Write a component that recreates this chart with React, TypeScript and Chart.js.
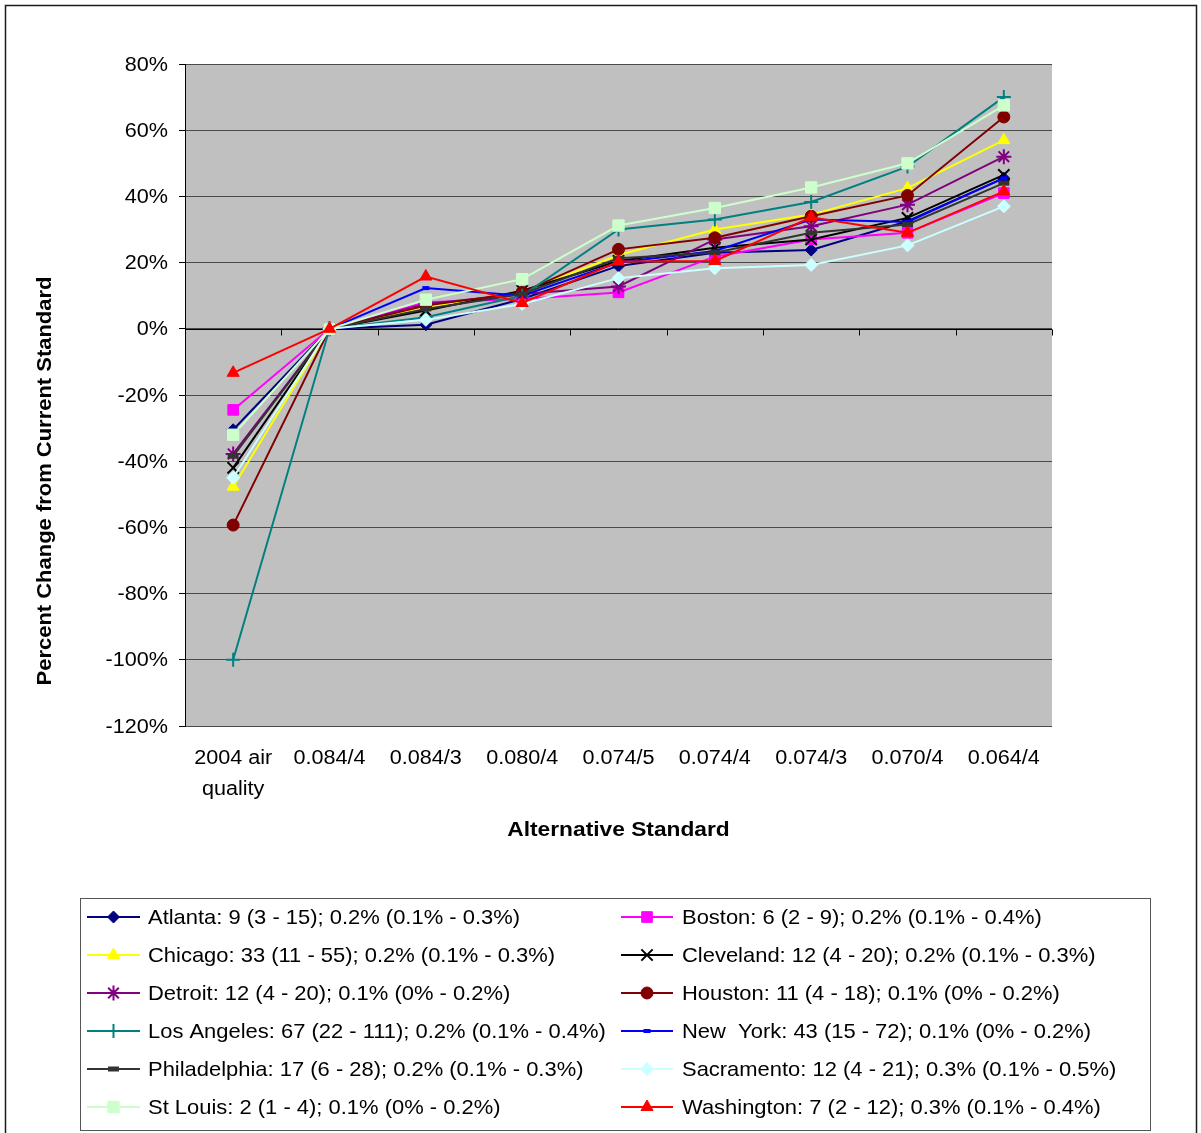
import React, { useEffect, useRef } from 'react';
import { Chart, registerables } from 'chart.js';
import { drawPoint } from 'chart.js/helpers';

Chart.register(...registerables);

const FONT = "'Liberation Sans', Arial, sans-serif";

const categories: (string | string[])[] = [
  ['2004 air', 'quality'],
  '0.084/4',
  '0.084/3',
  '0.080/4',
  '0.074/5',
  '0.074/4',
  '0.074/3',
  '0.070/4',
  '0.064/4',
];

const yMin = -120;
const yMax = 80;
const yStep = 20;

const atlanta = [-30.5, 0, 1.2, 9, 19, 23, 23.8, 32.5, 45.5];
const boston = [-24.5, 0, 8, 9, 11, 21.8, 27, 29, 41];
const chicago = [-47.7, 0, 6.5, 11, 22.3, 30, 34.5, 42.5, 57];
const cleveland = [-42, 0, 5.5, 11.5, 20.5, 24.5, 27, 33.5, 46.5];
const detroit = [-37.8, 0, 7.5, 10.5, 12.8, 27, 31, 37.5, 52];
const houston = [-59.3, 0, 7, 11, 24, 27.5, 34, 40.3, 64];
const losAngeles = [-100, 0, 3.5, 10, 30, 33, 38.3, 49, 70];
const newYork = [null, 0, 12.3, 10, 20, 23.5, 33, 32.3, 45.5];
const philadelphia = [-38.5, 0, 6, 10.5, 21.3, 23, 29, 31.5, 44];
const sacramento = [-45, 0, 2.7, 7.5, 15.3, 18.3, 19.3, 25.2, 37];
const stLouis = [-32, 0, 8.8, 15, 31.2, 36.5, 42.7, 50, 67.5];
const washington = [-13.3, 0, 15.8, 7.8, 20.3, 20.5, 33.7, 29, 41.5];

const seriesLabels = [
  'Atlanta: 9 (3 - 15); 0.2% (0.1% - 0.3%)',
  'Boston: 6 (2 - 9); 0.2% (0.1% - 0.4%)',
  'Chicago: 33 (11 - 55); 0.2% (0.1% - 0.3%)',
  'Cleveland: 12 (4 - 20); 0.2% (0.1% - 0.3%)',
  'Detroit: 12 (4 - 20); 0.1% (0% - 0.2%)',
  'Houston: 11 (4 - 18); 0.1% (0% - 0.2%)',
  'Los Angeles: 67 (22 - 111); 0.2% (0.1% - 0.4%)',
  'New  York: 43 (15 - 72); 0.1% (0% - 0.2%)',
  'Philadelphia: 17 (6 - 28); 0.2% (0.1% - 0.3%)',
  'Sacramento: 12 (4 - 21); 0.3% (0.1% - 0.5%)',
  'St Louis: 2 (1 - 4); 0.1% (0% - 0.2%)',
  'Washington: 7 (2 - 12); 0.3% (0.1% - 0.4%)',
];

const seriesData = [
  atlanta, boston, chicago, cleveland, detroit, houston,
  losAngeles, newYork, philadelphia, sacramento, stLouis, washington,
];

const seriesColors = [
  '#000080', '#FF00FF', '#FFFF00', '#000000', '#800080', '#800000',
  '#008080', '#0000FF', '#333333', '#CCFFFF', '#CCFFCC', '#FF0000',
];

const seriesMarkers = [
  'rectRot', 'rect', 'triangle', 'crossRot', 'star', 'circle',
  'cross', 'line', 'line', 'rectRot', 'rect', 'triangle',
];

const markerRadius = [6, 7.5, 7, 8, 7.5, 6, 7, 3.5, 5.5, 6.5, 8, 7];
const markerBorder = [1, 1, 1, 2, 2, 1, 2, 4, 5, 1, 1, 1];

function stretchedText(ctx: CanvasRenderingContext2D, text: string, x: number, y: number, sx: number) {
  ctx.save();
  ctx.translate(x, y);
  ctx.scale(sx, 1);
  ctx.fillText(text, 0, 0);
  ctx.restore();
}

const bgPlugin = {
  id: 'bgPlugin',
  beforeDraw(chart: any) {
    const { ctx, chartArea } = chart;
    ctx.save();
    ctx.fillStyle = '#FFFFFF';
    ctx.fillRect(0, 0, chart.width, chart.height);
    ctx.strokeStyle = '#1a1a1a';
    ctx.lineWidth = 1.5;
    ctx.strokeRect(5.5, 5.5, 1191, 1140);
    ctx.fillStyle = '#C0C0C0';
    ctx.fillRect(chartArea.left, chartArea.top, chartArea.right - chartArea.left, chartArea.bottom - chartArea.top);
    ctx.restore();
  },
  beforeDatasetsDraw(chart: any) {
    const { ctx, chartArea } = chart;
    const y = chart.scales.y;
    const y0 = Math.round(y.getPixelForValue(0)) + 0.5;
    const n = categories.length;
    const w = (chartArea.right - chartArea.left) / n;
    ctx.save();
    ctx.strokeStyle = '#000000';
    ctx.lineWidth = 1;
    ctx.beginPath();
    ctx.moveTo(chartArea.left, y0);
    ctx.lineTo(chartArea.right, y0);
    for (let k = 1; k <= n; k++) {
      const px = Math.round(chartArea.left + k * w) + 0.5;
      ctx.moveTo(px, y0);
      ctx.lineTo(px, y0 + 6);
    }
    ctx.stroke();
    ctx.restore();
  },
  afterDraw(chart: any) {
    const { ctx, chartArea } = chart;
    const xs = chart.scales.x;
    const ys = chart.scales.y;
    ctx.save();
    ctx.fillStyle = '#000000';

    // x tick labels
    ctx.font = `20px ${FONT}`;
    ctx.textAlign = 'center';
    ctx.textBaseline = 'middle';
    categories.forEach((c, i) => {
      const px = xs.getPixelForValue(i);
      const lines = Array.isArray(c) ? c : [c];
      lines.forEach((ln, j) => stretchedText(ctx, ln, px, 758 + j * 31, 1.08));
    });

    // y tick labels
    ctx.textAlign = 'right';
    ys.ticks.forEach((t: any) => {
      const py = ys.getPixelForValue(t.value);
      stretchedText(ctx, `${t.value}%`, 168, py + 1, 1.08);
    });

    // axis titles
    ctx.font = `bold 21px ${FONT}`;
    ctx.textAlign = 'center';
    stretchedText(ctx, 'Alternative Standard', (chartArea.left + chartArea.right) / 2, 830, 1.083);
    ctx.save();
    ctx.translate(45, 481);
    ctx.rotate(-Math.PI / 2);
    stretchedText(ctx, 'Percent Change from Current Standard', 0, 0, 1.046);
    ctx.restore();

    // legend box
    ctx.strokeStyle = '#555555';
    ctx.lineWidth = 1;
    ctx.strokeRect(80.5, 898.5, 1070, 232);
    const ds = chart.data.datasets;
    ctx.font = `21px ${FONT}`;
    ctx.textAlign = 'left';
    ctx.textBaseline = 'middle';
    for (let i = 0; i < ds.length; i++) {
      const col = i % 2;
      const row = Math.floor(i / 2);
      const cy = 917 + row * 38;
      const x1 = col === 0 ? 87 : 621;
      const x2 = col === 0 ? 140 : 673;
      const d = ds[i];
      ctx.strokeStyle = d.borderColor;
      ctx.lineWidth = 2;
      ctx.beginPath();
      ctx.moveTo(x1, cy);
      ctx.lineTo(x2, cy);
      ctx.stroke();
      ctx.fillStyle = d.pointBackgroundColor;
      ctx.strokeStyle = d.pointBorderColor;
      ctx.lineWidth = d.pointBorderWidth;
      drawPoint(ctx, { pointStyle: d.pointStyle, radius: d.pointRadius, rotation: 0, borderWidth: d.pointBorderWidth } as any, (x1 + x2) / 2, cy);
      ctx.fillStyle = '#000000';
      stretchedText(ctx, d.label, col === 0 ? 148 : 682, cy + 1, 1.045);
    }
    ctx.restore();
  },
};

export default function App() {
  const ref = useRef<HTMLCanvasElement | null>(null);
  useEffect(() => {
    if (!ref.current) return;
    const datasets = seriesData.map((data, i) => ({
      label: seriesLabels[i],
      data,
      borderColor: seriesColors[i],
      backgroundColor: seriesColors[i],
      borderWidth: 2,
      pointStyle: seriesMarkers[i],
      pointRadius: markerRadius[i],
      pointHoverRadius: markerRadius[i],
      pointBackgroundColor: seriesColors[i],
      pointBorderColor: seriesColors[i],
      pointBorderWidth: markerBorder[i],
      tension: 0,
      spanGaps: false,
      order: seriesData.length - i,
      clip: false as any,
    }));
    const chart = new Chart(ref.current, {
      type: 'line',
      data: { labels: categories as any, datasets: datasets as any },
      options: {
        responsive: false,
        animation: false,
        devicePixelRatio: 1,
        layout: { padding: { left: 5, right: 149, top: 64, bottom: 297 } },
        plugins: { legend: { display: false }, tooltip: { enabled: false }, title: { display: false } },
        scales: {
          x: {
            offset: true,
            grid: { display: false, drawTicks: false },
            border: { display: false },
            ticks: { display: false, autoSkip: false, maxRotation: 0 },
            afterFit(scale: any) { scale.height = 110; },
          },
          y: {
            min: yMin,
            max: yMax,
            grid: { color: '#4a4a4a', lineWidth: 1, tickLength: 6, tickColor: '#000000', drawTicks: true },
            border: { display: true, color: '#000000', width: 1 },
            ticks: { display: false, stepSize: yStep },
            afterFit(scale: any) { scale.width = 180; },
          },
        },
      },
      plugins: [bgPlugin],
    });
    return () => chart.destroy();
  }, []);
  return (
    <div style={{ position: 'absolute', left: 0, top: 0, width: 1201, height: 1133, background: '#fff' }}>
      <canvas ref={ref} width={1201} height={1133} />
    </div>
  );
}
